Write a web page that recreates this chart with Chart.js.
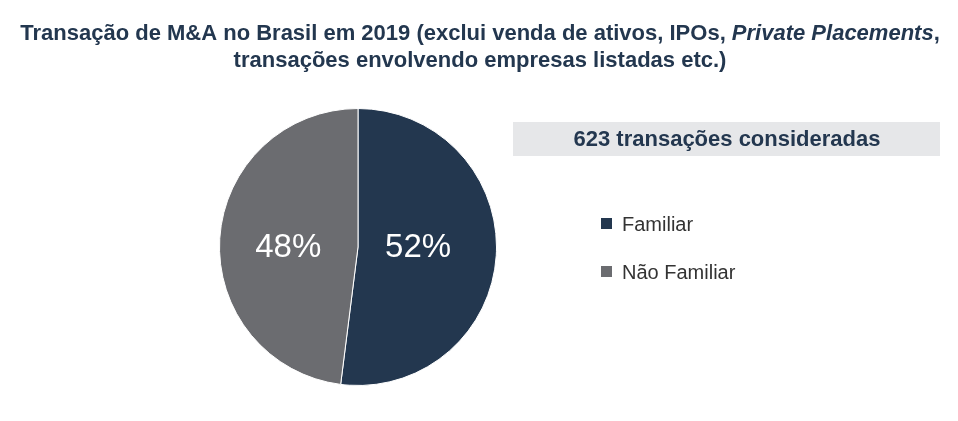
<!DOCTYPE html>
<html><head><meta charset="utf-8">
<script src="https://cdn.jsdelivr.net/npm/chart.js@4"></script>
<style>html,body{margin:0;padding:0;background:#fff;}#wrap{width:958px;height:421px;position:relative;}</style>
</head><body><div id="wrap"><canvas id="c" width="958" height="421"></canvas></div>
<script>
const categories = ["Familiar", "Não Familiar"];
const values = [52, 48];
const colors = ["#23374f", "#6b6c70"];
const boxText = "623 transações consideradas";
const titleLine1 = [["Transação de M&A no Brasil em 2019 (exclui venda de ativos, IPOs, ", false], ["Private Placements", true], [",", false]];
const titleLine2 = "transações envolvendo empresas listadas etc.)";

const FONT = "'Liberation Sans', Arial, sans-serif";
const navy = "#23374f";
const labelRadius = [0.435, 0.505];

const decor = {
  id: "decor",
  afterDraw(chart) {
    const ctx = chart.ctx;
    ctx.save();
    // title
    ctx.fillStyle = navy;
    ctx.textBaseline = "middle";
    const fs = 22;
    let total = 0;
    titleLine1.forEach(([t, it]) => { ctx.font = (it ? "italic " : "") + "bold " + fs + "px " + FONT; total += ctx.measureText(t).width; });
    let x = 480 - total / 2;
    ctx.textAlign = "left";
    titleLine1.forEach(([t, it]) => { ctx.font = (it ? "italic " : "") + "bold " + fs + "px " + FONT; ctx.fillText(t, x, 34); x += ctx.measureText(t).width; });
    ctx.font = "bold " + fs + "px " + FONT;
    ctx.textAlign = "center";
    ctx.fillText(titleLine2, 480, 61);
    // box
    ctx.fillStyle = "#e6e7e9";
    ctx.fillRect(513, 122, 427, 34);
    ctx.fillStyle = navy;
    ctx.font = "bold 22px " + FONT;
    ctx.fillText(boxText, 727, 140);
    // legend
    ctx.textAlign = "left";
    ctx.font = "20px " + FONT;
    categories.forEach((c, i) => {
      const y = 225 + i * 48;
      ctx.fillStyle = colors[i];
      ctx.fillRect(601, y - 7, 11, 11);
      ctx.fillStyle = "#333333";
      ctx.fillText(c, 622, y);
    });
    // slice labels
    const meta = chart.getDatasetMeta(0);
    ctx.fillStyle = "#ffffff";
    ctx.font = "33px " + FONT;
    ctx.textAlign = "center";
    meta.data.forEach((arc, i) => {
      const mid = (arc.startAngle + arc.endAngle) / 2;
      const r = arc.outerRadius * labelRadius[i];
      ctx.fillText(values[i] + "%", arc.x + Math.cos(mid) * r, arc.y + 1);
    });
    ctx.restore();
  }
};

new Chart(document.getElementById("c"), {
  type: "pie",
  data: { labels: categories, datasets: [{ data: values, backgroundColor: colors, borderColor: "#ffffff", borderWidth: 1 }] },
  options: {
    responsive: false,
    animation: false,
    layout: { padding: { left: 219, right: 461, top: 107, bottom: 34 } },
    plugins: { legend: { display: false }, tooltip: { enabled: false }, title: { display: false } }
  },
  plugins: [decor]
});
</script></body></html>
